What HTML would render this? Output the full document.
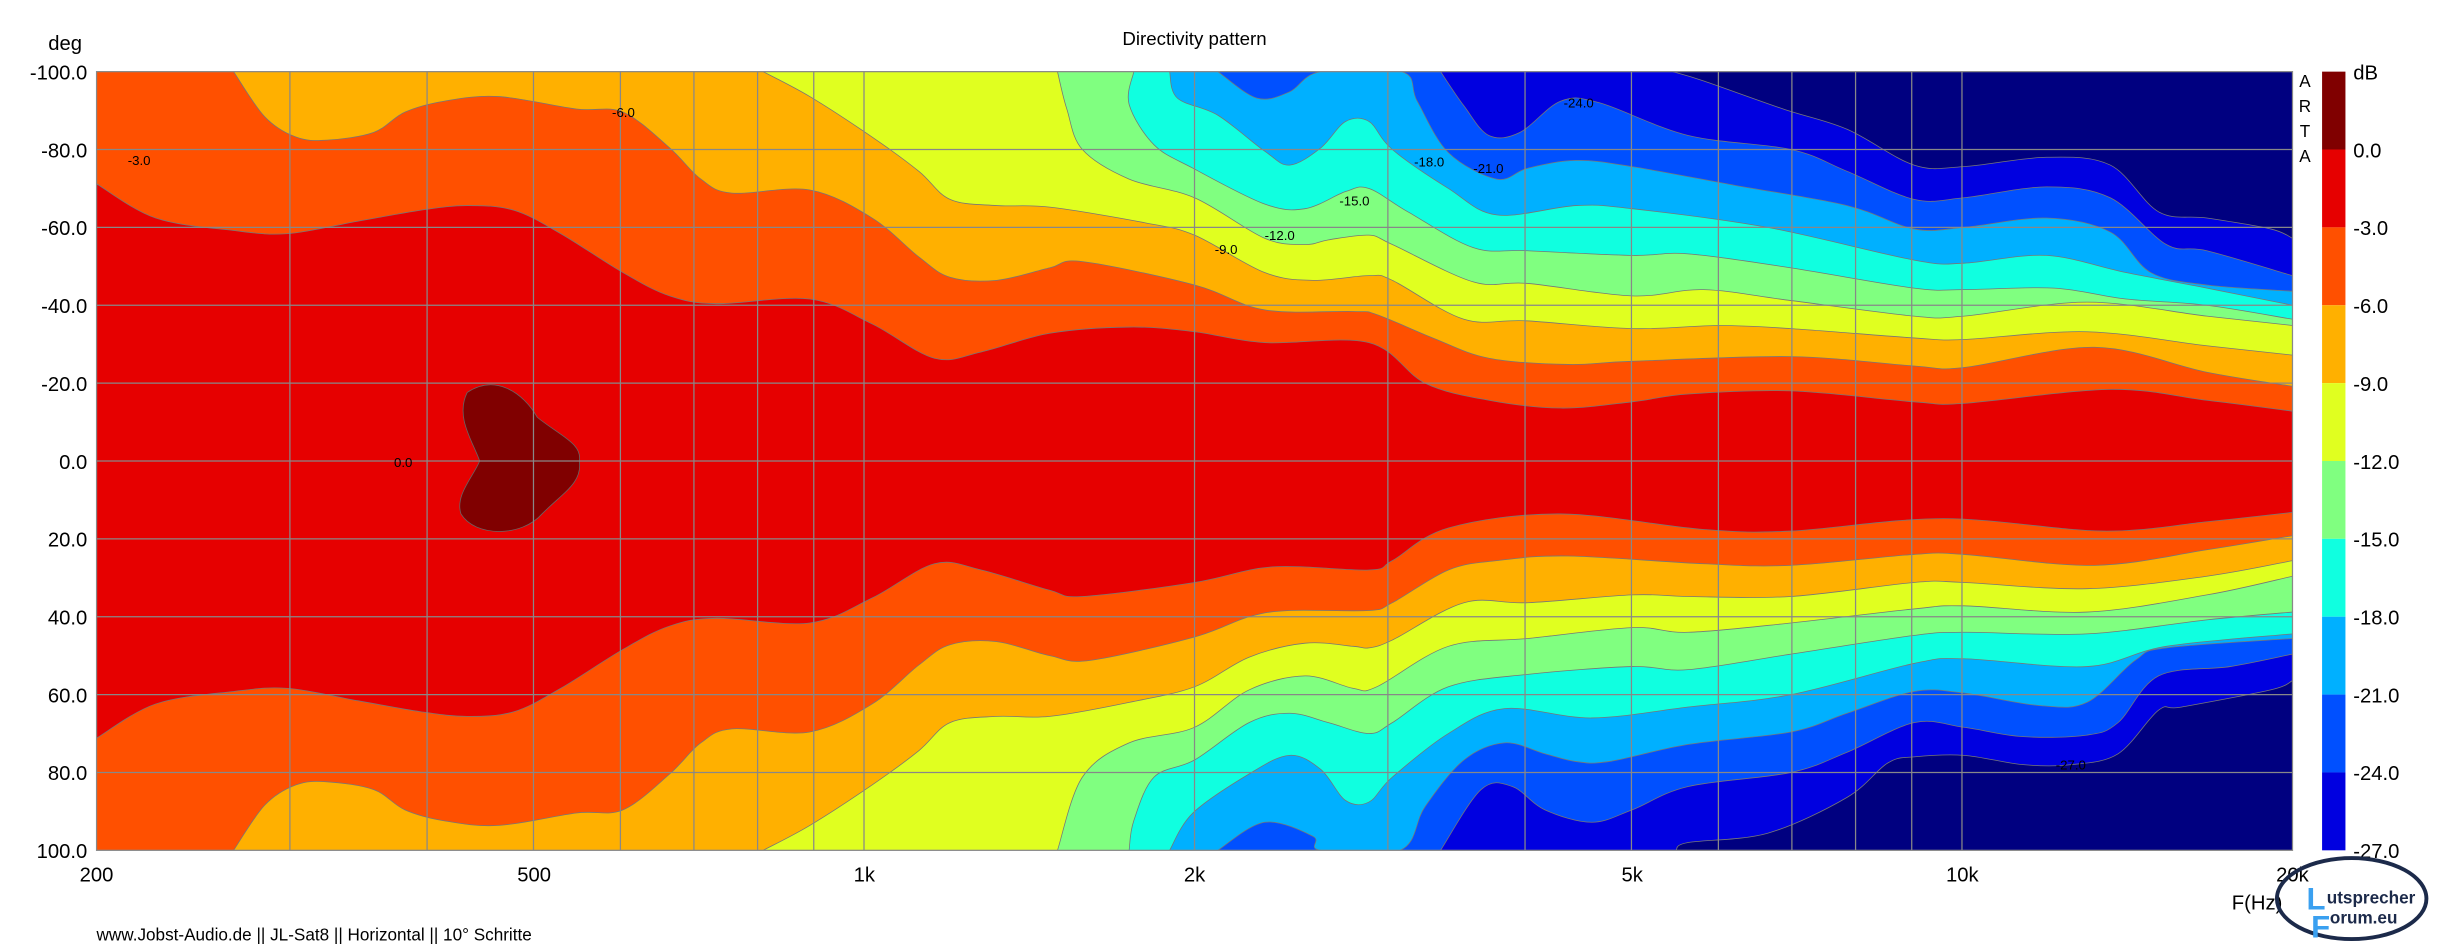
<!DOCTYPE html>
<html><head><meta charset="utf-8"><style>
html,body{margin:0;padding:0;background:#fff;overflow:hidden}
svg{display:block}
text{font-family:"Liberation Sans",sans-serif;fill:#000}
</style></head><body>
<svg id="s" width="2442" height="950" viewBox="0 0 1568 610" preserveAspectRatio="none" xmlns="http://www.w3.org/2000/svg">
<defs><clipPath id="cp"><rect x="62" y="46" width="1410" height="500"/></clipPath></defs>
<rect x="0" y="0" width="1568" height="610" fill="#fff"/>
<rect x="62" y="46" width="1410" height="500" fill="#000080"/>
<g id="bands" clip-path="url(#cp)"></g>
<path d="M300,252 C318,240 336,252 345,268 C360,280 374,285 372,296 C374,310 362,316 348,330 C335,345 305,345 296,330 C292,318 304,306 308,296 C304,284 292,268 300,252Z" fill="#800000" stroke="#666" stroke-width="0.5"/>
<g id="grid" stroke="#888" stroke-width="0.8"></g>
<rect x="62" y="46" width="1410" height="500" fill="none" stroke="#888" stroke-width="0.8"/>
<g font-size="8.5">
<text x="82" y="106">-3.0</text><text x="393" y="75">-6.0</text><text x="253" y="300">0.0</text>
<text x="780" y="163">-9.0</text><text x="812" y="154">-12.0</text><text x="860" y="132">-15.0</text>
<text x="908" y="107">-18.0</text><text x="946" y="111">-21.0</text><text x="1004" y="69">-24.0</text><text x="1320" y="494">-27.0</text>
</g>
<text x="767" y="29" font-size="12" text-anchor="middle">Directivity pattern</text>
<text x="31" y="32" font-size="13">deg</text>
<g font-size="13" text-anchor="end">
<text x="56" y="51">-100.0</text><text x="56" y="101">-80.0</text><text x="56" y="151">-60.0</text><text x="56" y="201">-40.0</text><text x="56" y="251">-20.0</text><text x="56" y="301">0.0</text><text x="56" y="351">20.0</text><text x="56" y="401">40.0</text><text x="56" y="451">60.0</text><text x="56" y="501">80.0</text><text x="56" y="551">100.0</text>
</g>
<g font-size="13" text-anchor="middle">
<text x="62" y="566">200</text><text x="343" y="566">500</text><text x="555" y="566">1k</text><text x="767" y="566">2k</text><text x="1048" y="566">5k</text><text x="1260" y="566">10k</text><text x="1472" y="566">20k</text>
</g>
<text x="1433" y="584" font-size="13">F(Hz)</text>
<text x="62" y="604" font-size="11">www.Jobst-Audio.de  ||  JL-Sat8  ||  Horizontal  ||  10° Schritte</text>
<g font-size="11" text-anchor="middle"><text x="1480" y="56">A</text><text x="1480" y="72">R</text><text x="1480" y="88">T</text><text x="1480" y="104">A</text></g>
<g id="cb"></g>
<g font-size="13">
<text x="1511" y="51">dB</text><text x="1511" y="101">0.0</text><text x="1511" y="151">-3.0</text><text x="1511" y="201">-6.0</text><text x="1511" y="251">-9.0</text><text x="1511" y="301">-12.0</text><text x="1511" y="351">-15.0</text><text x="1511" y="401">-18.0</text><text x="1511" y="451">-21.0</text><text x="1511" y="501">-24.0</text><text x="1511" y="551">-27.0</text>
</g>
<ellipse cx="1510" cy="577" rx="48" ry="26" fill="none" stroke="#1c2a4a" stroke-width="2.5"/>
<text x="1494" y="580" font-size="11" font-weight="bold" style="fill:#1c2a4a">utsprecher</text>
<text x="1496" y="593" font-size="11" font-weight="bold" style="fill:#1c2a4a">orum.eu</text>
<text x="1481" y="584" font-size="20" font-weight="bold" style="fill:#3aa0f0">L</text>
<text x="1484" y="602" font-size="20" font-weight="bold" style="fill:#3aa0f0">F</text>
</svg>
<script>
var NS="http://www.w3.org/2000/svg";
function el(t,a,p){var e=document.createElementNS(NS,t);for(var k in a)e.setAttribute(k,a[k]);p.appendChild(e);return e;}
var levels=[
["#0000e0",[[1074,46],[1094,52],[1145,70],[1186,83],[1229,106],[1261,107],[1314,101],[1355,106],[1386,136],[1417,140],[1458,147],[1472,153]],
 [[1076,546],[1084,541],[1135,535],[1186,512],[1212,490],[1229,486],[1261,485],[1299,491],[1330,491],[1360,484],[1386,456],[1401,454],[1458,443],[1472,437]]],
["#0050ff",[[925,46],[940,68],[956,87],[976,85],[1002,65],[1027,66],[1084,87],[1150,96],[1186,110],[1229,128],[1261,127],[1314,120],[1355,127],[1391,157],[1417,161],[1472,177]],
 [[925,546],[951,507],[971,505],[992,520],[1022,528],[1048,520],[1084,505],[1150,496],[1186,483],[1229,464],[1261,467],[1299,473],[1340,472],[1360,464],[1386,434],[1432,428],[1472,420]]],
["#00b0ff",[[782,46],[807,63],[828,59],[848,46],[900,46],[910,65],[930,98],[961,115],[981,108],[1012,103],[1048,107],[1114,119],[1186,132],[1229,147],[1261,146],[1314,140],[1355,149],[1381,175],[1417,183],[1472,187]],
 [[782,546],[812,528],[843,537],[848,546],[899,546],[915,518],[940,488],[966,477],[992,484],[1012,489],[1033,489],[1084,478],[1150,470],[1186,458],[1229,444],[1261,445],[1309,453],[1340,451],[1371,424],[1391,416],[1472,410]]],
["#10ffe0",[[751,46],[756,63],[782,74],[812,97],[828,106],[848,95],[864,78],[879,78],[894,96],[930,121],[961,138],[1012,132],[1048,134],[1135,146],[1229,167],[1261,169],[1314,164],[1365,175],[1417,185],[1472,196]],
 [[751,546],[766,522],[802,497],[828,485],[848,494],[864,514],[879,515],[894,499],[930,471],[966,455],[1022,461],[1084,454],[1150,446],[1229,426],[1261,423],[1340,428],[1391,415],[1472,407]]],
["#80ff80",[[728,46],[725,67],[741,93],[766,108],[812,131],[838,134],[864,123],[879,121],[904,136],[946,159],[981,161],[1048,164],[1084,163],[1150,172],[1229,185],[1261,186],[1319,185],[1365,192],[1417,196],[1472,205]],
 [[725,546],[728,527],[741,499],[767,488],[802,464],[828,458],[853,464],[879,471],[894,464],[930,441],[981,433],[1048,428],[1084,430],[1150,420],[1229,408],[1261,406],[1340,407],[1417,398],[1472,393]]],
["#e0ff20",[[679,46],[685,70],[695,96],[725,115],[767,127],[812,153],[838,157],[853,154],[879,151],[894,157],[946,181],[981,182],[1048,190],[1094,186],[1150,193],[1229,203],[1261,203],[1340,194],[1417,203],[1472,209]],
 [[679,546],[695,499],[725,477],[767,467],[802,443],[838,434],[869,442],[884,441],[930,415],[981,410],[1048,403],[1084,406],[1150,400],[1229,391],[1261,389],[1340,393],[1417,382],[1472,370]]],
["#ffb000",[[490,46],[520,62],[560,88],[590,110],[610,128],[640,132],[674,133],[735,143],[767,151],[812,175],[843,180],[879,177],[894,180],[940,205],[980,206],[1048,211],[1104,209],[1150,211],[1229,217],[1261,218],[1340,213],[1417,222],[1472,228]],
 [[674,460],[725,451],[767,441],[802,422],[838,413],[869,415],[879,416],[894,411],[940,387],[981,387],[1048,382],[1084,383],[1150,383],[1229,374],[1261,374],[1340,378],[1417,370],[1472,360]]],
["#ff5000",[[150,46],[170,75],[190,88],[210,90],[240,85],[260,72],[285,65],[320,62],[370,70],[400,72],[430,95],[450,115],[470,124],[520,122],[560,140],[590,165],[610,178],[640,180],[674,172],[695,168],[767,183],[812,199],[869,200],[884,202],[920,217],[956,230],[1007,234],[1048,232],[1150,229],[1229,235],[1261,236],[1345,223],[1417,239],[1472,248]],
 [[674,421],[700,424],[767,409],[802,396],[828,392],[879,392],[894,387],[930,366],[961,360],[1007,357],[1094,362],[1150,363],[1229,356],[1261,356],[1345,363],[1417,353],[1472,344]]],
["#e60000",[[62,118],[100,140],[150,148],[185,150],[230,142],[270,135],[300,132],[330,135],[360,150],[400,175],[430,190],[460,195],[520,192],[560,208],[600,230],[630,226],[674,214],[725,210],[767,213],[812,220],[879,220],[915,246],[956,257],[1002,262],[1048,258],[1084,253],[1150,251],[1229,258],[1261,259],[1355,250],[1417,257],[1472,264]],
 [[674,379],[695,383],[767,374],[817,364],[879,366],[894,360],[930,339],[1002,330],[1094,340],[1150,341],[1248,333],[1350,341],[1417,335],[1472,329]]]
];
function cr(pts){var d="";for(var i=0;i<pts.length-1;i++){var p0=pts[Math.max(0,i-1)],p1=pts[i],p2=pts[i+1],p3=pts[Math.min(pts.length-1,i+2)];
var c1=[p1[0]+(p2[0]-p0[0])/6,p1[1]+(p2[1]-p0[1])/6],c2=[p2[0]-(p3[0]-p1[0])/6,p2[1]-(p3[1]-p1[1])/6];
d+=" C"+c1[0].toFixed(1)+","+c1[1].toFixed(1)+" "+c2[0].toFixed(1)+","+c2[1].toFixed(1)+" "+p2[0]+","+p2[1];}return d;}
var g=document.getElementById("bands");
levels.forEach(function(L){
 var c=L[0],up=L[1],lw=L[2];
 var minx=lw[0][0];
 var mir=up.filter(function(p){return p[0]<minx;}).map(function(p){return [p[0],592-p[1]];});
 var lo=mir.concat(lw).reverse();
 var d;
 if(up[0][0]==62&&up[0][1]!=46){d="M"+up[0][0]+","+up[0][1]+cr(up)+" L"+lo[0][0]+","+lo[0][1]+cr(lo)+" Z";}
 else d="M62,40 L"+up[0][0]+",40 L"+up[0][0]+","+up[0][1]+cr(up)+" L1480,"+up[up.length-1][1]+" L1480,"+lo[0][1]+" L"+lo[0][0]+","+lo[0][1]+cr(lo)+" L"+lo[lo.length-1][0]+",552 L62,552 Z";
 el("path",{d:d,fill:c,stroke:"#777","stroke-width":0.5},g);
});
var gr=document.getElementById("grid");
[300,400,500,600,700,800,900,1000,2000,3000,4000,5000,6000,7000,8000,9000,10000].forEach(function(f){var x=62+705*Math.log10(f/200);el("line",{x1:x,x2:x,y1:46,y2:546},gr);});
for(var y=96;y<546;y+=50)el("line",{x1:62,x2:1472,y1:y,y2:y},gr);
var cb=document.getElementById("cb");
["#800000","#e60000","#ff5000","#ffb000","#e0ff20","#80ff80","#10ffe0","#00b0ff","#0050ff","#0000e0"].forEach(function(c,i){el("rect",{x:1491,y:46+i*50,width:15,height:50,fill:c},cb);});
</script>
</body></html>
